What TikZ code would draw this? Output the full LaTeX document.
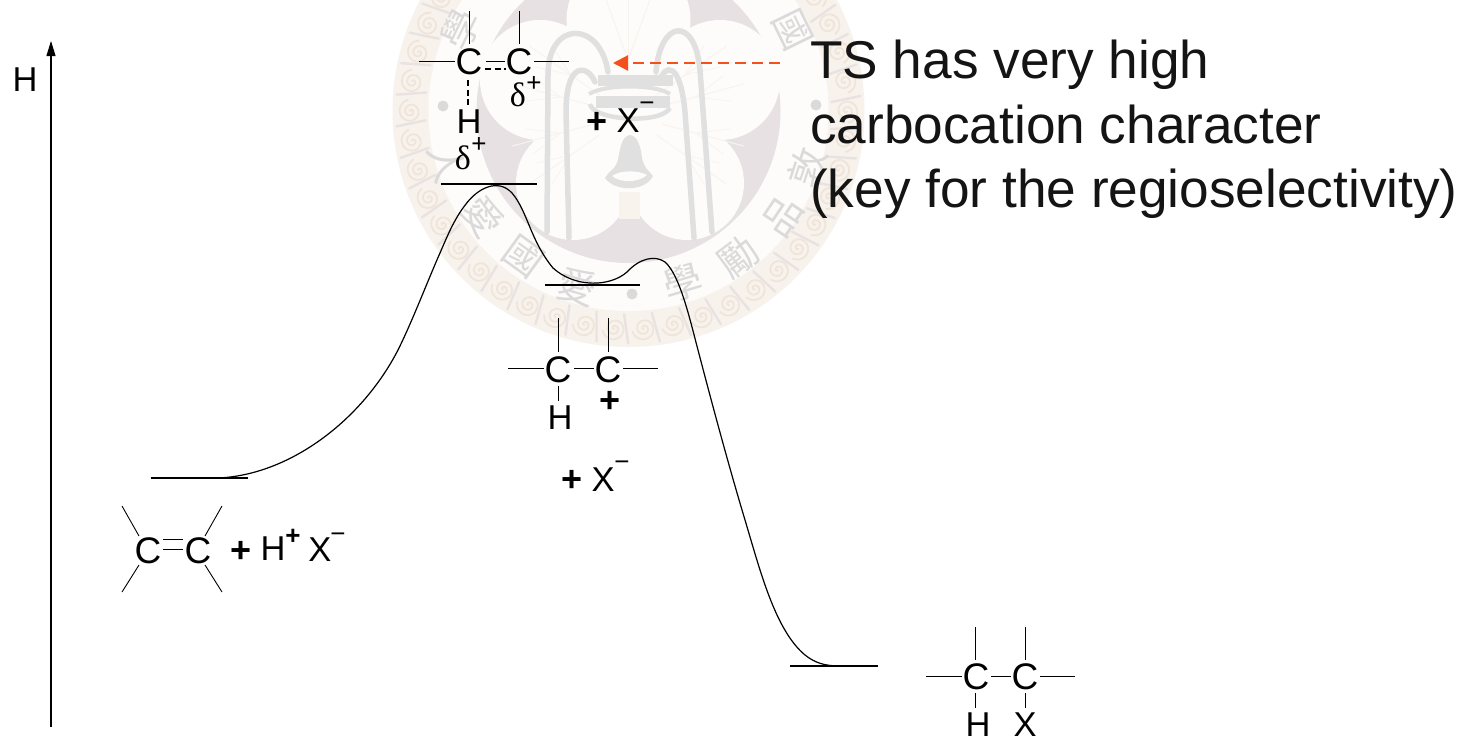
\documentclass[tikz,border=0pt]{standalone}
\usepackage{fontspec}
\setmainfont{Liberation Sans}
\newfontfamily\serifgreek{Liberation Serif}
\newfontfamily\cjkseal{Noto Sans CJK TC}
\usetikzlibrary{arrows.meta}
\definecolor{sealband}{HTML}{F8F2EC}
\definecolor{sealspiral}{HTML}{EEE4D9}
\definecolor{sealslash}{HTML}{E9E2E2}
\definecolor{sealmauve}{HTML}{E7E1E4}
\definecolor{sealpetal}{HTML}{FDFCFB}
\definecolor{sealgrey}{HTML}{E0E0E0}
\definecolor{sealleaf}{HTML}{F9F3ED}
\definecolor{sealchar}{HTML}{DCD9DA}
\definecolor{tsorange}{HTML}{F4501E}
\tikzset{
  x=1pt,y=-1pt,
  atom/.style={inner sep=0pt,font=\fontsize{37}{37}\selectfont,text=black},
  big/.style={inner sep=0pt,anchor=base west,font=\fontsize{53.2}{53.2}\selectfont,text=black!92},
  sym/.style={inner sep=0pt,font=\fontsize{34.5}{34.5}\selectfont,text=black},
  plus/.style={inner sep=0pt,font=\bfseries\fontsize{36}{36}\selectfont,text=black},
  delta/.style={inner sep=0pt,font=\serifgreek\fontsize{34}{34}\selectfont},
  supr/.style={inner sep=0pt,font=\fontsize{26}{26}\selectfont},
  bond/.style={draw=black,line width=0.9pt},
  level/.style={draw=black,line width=1.6pt},
  dbond/.style={draw=black,line width=2.3pt,dash pattern=on 6pt off 3.5pt},
  arch/.style={draw=sealgrey,line width=5.5pt,line cap=round},
  sealtext/.style={inner sep=0pt,text=sealchar,font=\cjkseal\fontsize{39}{39}\selectfont}
}
\begin{document}
\begin{tikzpicture}
\useasboundingbox (0,0) rectangle (1462,739);
\fill[white] (0,0) rectangle (1462,739);
% ---- watermark seal
\begin{scope}
\clip (0,0) rectangle (1462,739);
\fill[sealband] (628.5,111) circle (236);
\fill[sealpetal] (628.5,111) circle (200);
\foreach \a in {0,7.83,...,359}{
  \begin{scope}[shift={(628.5,111)},rotate=\a]
    \draw[sealspiral,line width=1.7pt,shift={(218,0)}]
      plot[domain=0:800,samples=30,smooth] ({\x/800*12*cos(\x)},{\x/800*12*sin(\x)});
    \draw[sealslash,line width=2.4pt,line cap=round] (203,-9) -- (232,-15);
  \end{scope}
}
\fill[sealmauve] (628.5,111) circle (152);
\fill[sealpetal]
  (628.5,20) circle (62) (540,80) circle (60) (720,80) circle (60)
  (573,183) circle (57) (687,183) circle (57) (628.5,111) circle (100);
% palm leaves
\foreach \a in {-165,-145,-35,-15,15,35,145,165}{
  \draw[sealleaf,line width=1pt] (628,115) ++(\a:35) -- ++(\a:85);
  \draw[sealleaf,line width=0.8pt] (628,115) ++(\a:70) -- ++(\a+22:35);
  \draw[sealleaf,line width=0.8pt] (628,115) ++(\a:70) -- ++(\a-22:35);
}
\foreach \a in {-110,-90,-70}{
  \draw[sealleaf,line width=1pt] (628,60) -- ++(\a:70);
}
% arches
\draw[arch] (547,232) -- (548,75) .. controls (548,20) and (600,20) .. (608,72);
\draw[arch] (569,238) -- (566,112) .. controls (566,60) and (588,65) .. (595,82);
\draw[arch] (712,232) -- (700,70) .. controls (695,15) and (660,20) .. (656,72);
\draw[arch] (694,238) -- (685,112) .. controls (680,60) and (665,65) .. (660,80);
% cauldron
\fill[sealgrey] (598,75) -- (673,75) -- (673,86) -- (598,86) -- cycle;
\draw[sealgrey,line width=4pt] (589,94) .. controls (605,84) and (655,84) .. (670,94);
\fill[sealgrey] (596,96) -- (670,96) -- (670,108) -- (596,108) -- cycle;
\draw[sealgrey,line width=4.5pt] (590,104) .. controls (592,120) and (660,125) .. (670,108);
% bell
\fill[sealgrey] (630,135) .. controls (622,136) and (620,148) .. (618,160) .. controls (615,170) and (608,172) .. (605,178)
  .. controls (615,192) and (645,192) .. (653,176) .. controls (648,170) and (644,168) .. (642,158) .. controls (641,148) and (638,136) .. (630,135) -- cycle;
\fill[sealpetal] (612,176) .. controls (620,183) and (638,183) .. (647,175) .. controls (638,170) and (620,170) .. (612,176) -- cycle;
\fill[sealleaf] (619,192) rectangle (640,219);
% characters and dots
\node[sealtext,rotate=64] (s1) at (461,30) {學};
\node[sealtext,rotate=-64] (s2) at (793,30) {國};
\node[sealtext,rotate=-74] (s3) at (447,163) {人};
\node[sealtext,rotate=-54] (s4) at (483,217) {愛};
\node[sealtext,rotate=-36] (s5) at (523,257) {國};
\node[sealtext,rotate=-16] (s6) at (577,287) {愛};
\node[sealtext,rotate=17] (s7) at (683,283) {學};
\node[sealtext,rotate=37] (s8) at (738,257) {勵};
\node[sealtext,rotate=56] (s9) at (783,217) {品};
\node[sealtext,rotate=72] (s10) at (807,167) {敦};
\fill[sealchar] (443,106) circle (5.5) (816,105) circle (5.5) (632,294) circle (5.5);
\end{scope}
% ---- axis
\coordinate (axbot) at (51,727);
\coordinate (axtop) at (51,41);
\draw[draw=black,line width=1.1pt,-{Triangle[length=15pt,width=9pt]}] (axbot) -- (axtop);
\node[sym] (hlabel) at (25,80) {H};
% ---- energy levels
\coordinate (l0a) at (151,478); \coordinate (l0b) at (248,478);
\coordinate (l1a) at (441,184); \coordinate (l1b) at (537,184);
\coordinate (l2a) at (545,285); \coordinate (l2b) at (640,285);
\coordinate (l3a) at (790,666); \coordinate (l3b) at (878,666);
\draw[level] (l0a) -- (l0b);
\draw[level] (l1a) -- (l1b);
\draw[level] (l2a) -- (l2b);
\draw[level] (l3a) -- (l3b);
% ---- reaction curve
\draw[draw=black,line width=1.2pt]
  (218,478) .. controls (290,475) and (362,420) .. (398,350)
  .. controls (412,322) and (428,280) .. (440,253)
  .. controls (449,232) and (455,218) .. (466,204)
  .. controls (478,188) and (498,178) .. (512,193)
  .. controls (528,212) and (530,240) .. (553,268)
  .. controls (575,288) and (610,287) .. (627,272)
  .. controls (640,258) and (655,255) .. (665,262)
  .. controls (680,275) and (690,320) .. (698,350)
  .. controls (715,415) and (730,470) .. (745,520)
  .. controls (760,570) and (775,630) .. (805,655)
  .. controls (815,663) and (825,666) .. (840,666);
% ---- starting material
\node[atom] (a1) at (148,551) {C};
\node[atom] (a2) at (198,551) {C};
\draw[bond] (a1) ++(-26,-45) -- ++(17,30);
\draw[bond] (a1) ++(-26,41) -- ++(17,-27);
\draw[bond] (a2) ++(24,-45) -- ++(-17,30);
\draw[bond] (a2) ++(24,41) -- ++(-17,-27);
\draw[bond] (a1) ++(15,-12) -- ++(20,0);
\draw[bond] (a1) ++(15,-2) -- ++(20,0);
\node[plus] (ap) at (241,552) {+};
\node[sym] (ah) at (273,549) {H};
\node[supr,font=\bfseries\fontsize{26}{26}\selectfont] (ahp) at (293,537) {+};
\node[sym] (ax) at (320,550) {X};
\node[supr] (axm) at (338,538) {\textminus};
% ---- transition state
\node[atom] (t1) at (469,62) {C};
\node[atom] (t2) at (519,62) {C};
\draw[bond] (t1) ++(0,-51) -- ++(0,33);
\draw[bond] (t2) ++(0,-51) -- ++(0,33);
\draw[bond] (t1) ++(-50,-1) -- ++(36,0);
\draw[bond] (t2) ++(15,-1) -- ++(35,0);
\draw[bond] (t1) ++(17,-1) -- ++(19,0);
\draw[dbond] (t1) ++(16,7) -- ++(21,0);
\draw[dbond] (t1) ++(-1,18) -- ++(0,26);
\node[sym] (th) at (469,122) {H};
\node[delta] (td1) at (463,158) {δ};
\node[supr] (tp1) at (479,145) {+};
\node[delta] (td2) at (518,95) {δ};
\node[supr] (tp2) at (534,84) {+};
\node[plus] (tpp) at (597,123) {+};
\node[sym] (tx) at (628,121) {X};
\node[supr] (txm) at (647,107) {\textminus};
% ---- intermediate
\node[atom] (i1) at (558,370) {C};
\node[atom] (i2) at (608,370) {C};
\draw[bond] (i1) ++(0.5,-52) -- ++(0,34);
\draw[bond] (i2) ++(0,-52) -- ++(0,34);
\draw[bond] (i1) ++(-50,-1.5) -- ++(36,0);
\draw[bond] (i1) ++(16,-1.5) -- ++(20,0);
\draw[bond] (i2) ++(15,-1.5) -- ++(35,0);
\draw[bond] (i1) ++(0.5,16) -- ++(0,15);
\node[sym] (ih) at (560,418) {H};
\node[plus] (ipl) at (610,402) {+};
\node[plus] (ipp) at (572,481) {+};
\node[sym] (ix) at (603,480) {X};
\node[supr] (ixm) at (622,466) {\textminus};
% ---- product
\node[atom] (p1) at (976,677) {C};
\node[atom] (p2) at (1025,677) {C};
\draw[bond] (p1) ++(-0.5,-50) -- ++(0,33);
\draw[bond] (p2) ++(0,-50) -- ++(0,33);
\draw[bond] (p1) ++(-50,-1) -- ++(36,0);
\draw[bond] (p1) ++(15,-1) -- ++(20,0);
\draw[bond] (p2) ++(15,-1) -- ++(35,0);
\draw[bond] (p1) ++(-0.5,16) -- ++(0,15);
\draw[bond] (p2) ++(0,16) -- ++(0,15);
\node[sym] (ph) at (978,725) {H};
\node[sym] (px) at (1025,725) {X};
% ---- annotation
\node[big] (note1) at (810,78) {TS has very high};
\node[big] (note2) at (810,143) {carbocation character};
\node[big] (note3) at (810,207) {(key for the regioselectivity)};
\coordinate (arrstart) at (780,63);
\coordinate (arrend) at (613,63);
\draw[draw=tsorange,line width=2.2pt,dash pattern=on 11pt off 6pt,-{Triangle[length=15pt,width=15pt]}] (arrstart) -- (arrend);
\end{tikzpicture}
\end{document}
